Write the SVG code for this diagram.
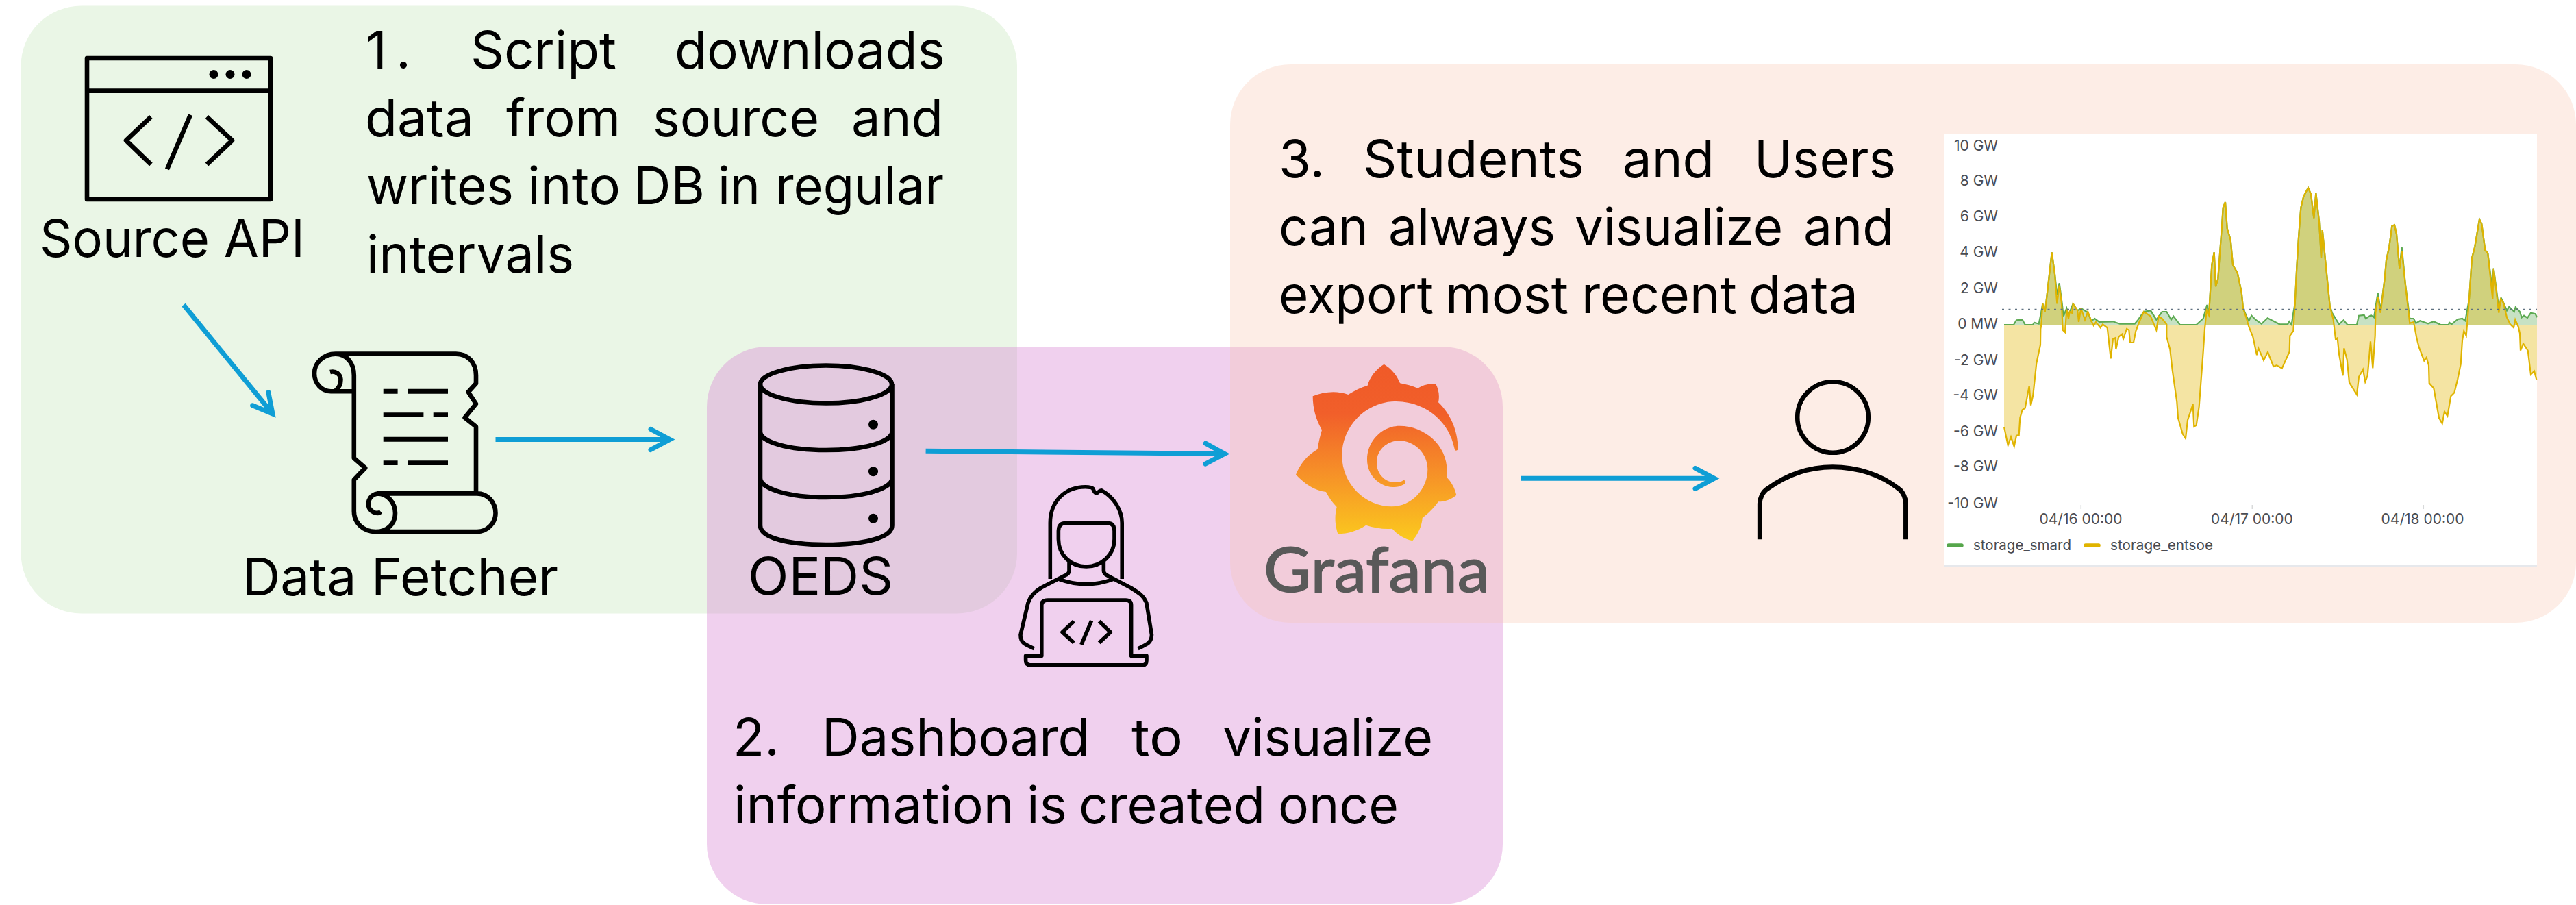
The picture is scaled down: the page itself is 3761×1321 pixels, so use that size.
<svg xmlns="http://www.w3.org/2000/svg" width="3761" height="1321" viewBox="0 0 3761 1321">
<style>
.ic{fill:none;stroke:#000;stroke-width:6.6;stroke-linejoin:round}
.bk{fill:#000;stroke:none}
.tx{font-family:Inter,"Liberation Sans",Arial,sans-serif;font-size:76px;fill:#000}
.ch{font-family:Inter,"Liberation Sans",sans-serif;font-size:21px;fill:#4a4c52}
.yl{text-anchor:end}
.xl{text-anchor:middle}
.cn{fill:none;stroke:#0F9ED5;stroke-width:7;marker-end:url(#ah)}
</style>
<defs>
<marker id="ah" markerUnits="userSpaceOnUse" markerWidth="70" markerHeight="60" viewBox="-50 -30 70 60" refX="0" refY="0" orient="auto">
<path d="M-28,-15 L0,0 L-28,15" fill="none" stroke="#0F9ED5" stroke-width="7" stroke-linecap="round" stroke-linejoin="miter" stroke-miterlimit="10"/>
</marker>
<linearGradient id="gf" x1="0" y1="0" x2="0" y2="1">
<stop offset="0" stop-color="#F05A28"/><stop offset=".28" stop-color="#F15F2A"/><stop offset=".6" stop-color="#F68E28"/><stop offset="1" stop-color="#FBCA1E"/>
</linearGradient>
</defs>
<rect width="3761" height="1321" fill="#fff"/>
<g id="panels">
<rect id="panel-1" x="30.5" y="8.5" width="1454.5" height="887" rx="88" fill="#EAF6E6"/>
<rect id="panel-2" x="1032" y="506" width="1162" height="814" rx="88" fill="#DA89D4" fill-opacity=".4"/>
<rect id="panel-3" x="1796" y="94" width="1965" height="815" rx="88" fill="#F7C4AC" fill-opacity=".3"/>
</g>
<g id="connectors">
<line class="cn" x1="268" y1="445" x2="398" y2="604"/>
<line class="cn" x1="723.5" y1="641.5" x2="978" y2="641.5"/>
<line class="cn" x1="1351.6" y1="658.3" x2="1788" y2="662.4"/>
<line class="cn" x1="2221" y1="698.3" x2="2503" y2="698.3"/>
</g>
<g id="source-api">
<rect class="ic" x="127" y="85" width="268" height="206"/>
<path class="ic" d="M127,132.6H395M220.4,170.5L184,205L220.4,240M278,167.6L244,247M302,170.5L339,205L302,240" stroke-linejoin="miter"/>
<circle class="bk" cx="312" cy="108.5" r="6.5"/><circle class="bk" cx="336" cy="108.5" r="6.5"/><circle class="bk" cx="360" cy="108.5" r="6.5"/>
<text class="tx" x="58" y="375" textLength="387" lengthAdjust="spacingAndGlyphs">Source API</text>
</g>
<g id="data-fetcher">
<path class="ic" d="M490,516.6C472,516.6 459,530 459,545C459,560 470,571.2 483,571.2H516.8M490,516.6H665.8C684,516.6 695,530 695,548V559.7L683.7,572.3L695,589.5L678.6,609.6L695,622.8V720.4M490,516.6C506,516.6 516.8,530 516.8,548V668.8L533.2,683.1L516.8,700.3V746.3C516.8,763 530,776.1 548.5,776.1H696.4C712,776.1 723.5,763 723.5,749C723.5,733 712,720.4 696.4,720.4H551C541,722 537,730 538,738C539,746 550,752 556,747M551,720.4C565,720.4 577,733 577,749C577,765 565,776.1 548.5,776.1M482,543C490,541 497,546 497.5,554C497.5,560 495,566 490,570"/>
<path class="ic" style="stroke-width:6.9" d="M559.7,571.2H580.6M595.4,571.2H654M559.7,605.6H618.4M632.7,605.6H654M559.7,641.2H654M559.7,675.6H580.6M595.4,675.6H654"/>
<text class="tx" x="354" y="868.5" textLength="461" lengthAdjust="spacingAndGlyphs">Data Fetcher</text>
</g>
<g id="oeds">
<ellipse class="ic" cx="1206" cy="561" rx="96" ry="27.5"/>
<path class="ic" d="M1110,561V767C1110,785 1150,795 1206,795C1262,795 1302.5,785 1302.5,767V561M1110,630C1110,645 1150,657 1206,657C1262,657 1302.5,645 1302.5,630M1110,698C1110,713 1150,726 1206,726C1262,726 1302.5,713 1302.5,698"/>
<ellipse class="bk" cx="1275" cy="619.7" rx="7" ry="7"/><ellipse class="bk" cx="1275" cy="688.3" rx="7" ry="7"/><ellipse class="bk" cx="1275" cy="756.7" rx="7" ry="7"/>
<text class="tx" x="1092" y="868" textLength="212" lengthAdjust="spacingAndGlyphs">OEDS</text>
</g>
<g id="developer">
<path class="ic" style="stroke-width:5.6" d="M1533.3,845V763.3C1533.3,732 1555,710.7 1584.6,710.7C1590,710.7 1594,711 1595.8,713.3C1597,716 1598,720 1601,720C1603,720 1604,716 1608,715.7C1626,725 1638.2,745 1638.2,763.3V845M1545.4,775Q1545.4,763.5 1556,763.5H1617Q1627,763.5 1627,775V787C1627,810 1608,827 1586,827C1563,827 1545.4,810 1545.4,787ZM1561,818.3V833.3Q1561,838 1553.5,840.7L1520,858C1510,864 1504.3,870 1501,880L1490,926.7C1490,938 1495,940 1509.8,946.7M1611.4,818.3V833.3Q1611.4,838 1618,840.7L1651,858C1664,866 1670,870 1673.9,880L1681.5,926.7C1681,938 1676,940 1661.4,946.7M1546.7,845.7Q1586,860 1624.8,845.7M1497.6,957.3H1520.8V883.3Q1520.8,876 1530,876H1643.6Q1651.6,876 1651.6,883.3V957.3H1674V964Q1674,970.7 1668.6,970.7H1504.3Q1497.6,970.7 1497.6,964ZM1568,906.7L1551,922.7L1568,938.3M1593.6,906L1578.8,941M1604.7,906.7L1621.3,922.7L1604.7,938.3"/>
</g>
<g id="grafana">
<path transform="translate(1750,480) scale(.33333)" fill="url(#gf)" d="M812,155C845,175 870,205 882,238C910,243 935,250 960,260C985,245 1010,240 1038,240C1052,265 1056,295 1050,322C1100,370 1135,440 1136,525Q1135,533 1128,533Q1122,533 1120,522C1100,420 1010,320 865,318C730,318 628,430 628,555C628,680 730,778 845,778C935,778 1003,700 1003,615C1003,545 945,490 878,490C825,490 780,530 780,585C780,640 820,672 860,672C880,672 890,668 897,663Q905,661 907,670Q906,678 898,682C880,692 865,694 850,693C790,690 738,640 738,572C738,490 805,425 880,425C990,425 1088,510 1088,620Q1088,635 1087,650C1105,668 1122,695 1129,728C1105,748 1080,757 1050,757C1030,785 1005,810 980,828C978,865 960,900 937,928C900,920 870,900 848,875C810,878 770,872 733,860C695,885 655,897 610,898C597,860 595,820 605,780C585,760 570,738 558,714C510,708 465,680 426,638C445,590 480,550 521,527C525,497 532,470 540,443C515,400 500,350 500,295C550,275 605,270 655,288C683,270 710,257 740,248C750,210 778,175 812,155Z"/>
<text x="1845" y="864" textLength="330" lengthAdjust="spacingAndGlyphs" style="font-family:Lato,Inter,sans-serif;font-size:92px;font-weight:400;fill:#595959;stroke:#595959;stroke-width:1.8">Grafana</text>
</g>
<g id="user">
<circle class="ic" cx="2676" cy="609" r="51.8"/>
<path class="ic" style="stroke-width:6.9" d="M2569.3,787.3V735C2569.3,728 2573,718 2580.8,713.3C2610,692 2640,681.7 2675.7,681.7C2710,681.7 2745,692 2772,713.3C2779,718 2782.5,728 2782.5,735V787.3"/>
</g>
<g id="chart">
<rect x="2838" y="195" width="866" height="631" fill="#fff"/>
<line x1="2838" y1="826" x2="3704" y2="826" stroke="#E6E8EC" stroke-width="2"/>
<path fill="#56A64B" fill-opacity=".33" d="M2926,474H2940L2944,467.3L2952.7,466.7L2956.7,474H2968L2970,470.7L2976.7,472.7L2980,456.7L2982.3,443.3L2985.7,455L2988.3,433.3L2995.7,368.3L3000,400L3003.3,430L3006.7,413.3L3010.7,443.3L3012.7,461.7L3017.3,450L3020,460L3026.7,443.3L3033.3,453.3L3038.3,450L3048.3,456L3053.3,468.3L3058.3,465L3065,470L3085,469.3L3095,472.7L3116.7,472.7L3121.7,466.7L3130,455L3140,453.3L3148.3,466.7L3156.7,455L3163.3,455L3170,466.7L3173.3,461.7L3182.7,474H3206.7L3216.7,465L3222.3,445L3225,460L3229.3,386.7L3232.7,368.3L3235,418.3L3238.3,406.7L3244,330L3245.7,303.3L3249,295L3251.7,333.3L3256.7,350L3260,386.7L3266.7,398.3L3272.7,426.7L3275,450L3280,461.7L3283.3,468.3L3287.3,460.7L3293.3,466.7L3301.7,472.7L3310.7,464.3L3328.3,473.3L3340,473.3L3342.3,469.3L3345.7,474L3348.3,456.7L3350.7,443.3L3353.3,390L3356,346.7L3359.3,303.3L3363.3,286.7L3370,274L3374,283.3L3378.3,318.3L3381.3,281.7L3386,323.3L3389,376.7L3390.7,335L3396.7,396.7L3401.7,446.7L3405,456.7L3415,473.3L3421.7,467.3L3427.3,474H3441L3444,460.7L3451.7,460L3454,465L3461.7,460L3466,463.3L3471.7,427.3L3475.7,453L3481.7,406.7L3484,380L3488.3,360L3492.3,330L3496,328.3L3499,341.7L3503.3,391.7L3506.7,360.7L3511.7,413.3L3518.3,465L3524,465L3527.3,471.7L3533.3,468.3L3545,472.3L3553.3,469.3L3563.3,474H3575L3576,470.7L3579.3,473.3L3588.3,466L3595,465L3599.3,468.3L3605,436.7L3609,376.7L3613.3,360L3620,320L3623.3,326.7L3628.3,365L3632.3,370L3638.3,418.3L3640.7,391.7L3648.3,450L3651.7,435L3655,441.7L3660,453.3L3663.3,447.7L3670.7,455L3672.7,448.3L3679,455L3681.7,463.3L3685,460.7L3690,464L3695,456.7L3701.7,458.3L3704,463.3V474Z"/>
<path fill="none" stroke="#5DAA52" stroke-width="2.2" d="M2926,474H2940L2944,467.3L2952.7,466.7L2956.7,474H2968L2970,470.7L2976.7,472.7L2980,456.7L2982.3,443.3L2985.7,455L2988.3,433.3L2995.7,368.3L3000,400L3003.3,430L3006.7,413.3L3010.7,443.3L3012.7,461.7L3017.3,450L3020,460L3026.7,443.3L3033.3,453.3L3038.3,450L3048.3,456L3053.3,468.3L3058.3,465L3065,470L3085,469.3L3095,472.7L3116.7,472.7L3121.7,466.7L3130,455L3140,453.3L3148.3,466.7L3156.7,455L3163.3,455L3170,466.7L3173.3,461.7L3182.7,474H3206.7L3216.7,465L3222.3,445L3225,460L3229.3,386.7L3232.7,368.3L3235,418.3L3238.3,406.7L3244,330L3245.7,303.3L3249,295L3251.7,333.3L3256.7,350L3260,386.7L3266.7,398.3L3272.7,426.7L3275,450L3280,461.7L3283.3,468.3L3287.3,460.7L3293.3,466.7L3301.7,472.7L3310.7,464.3L3328.3,473.3L3340,473.3L3342.3,469.3L3345.7,474L3348.3,456.7L3350.7,443.3L3353.3,390L3356,346.7L3359.3,303.3L3363.3,286.7L3370,274L3374,283.3L3378.3,318.3L3381.3,281.7L3386,323.3L3389,376.7L3390.7,335L3396.7,396.7L3401.7,446.7L3405,456.7L3415,473.3L3421.7,467.3L3427.3,474H3441L3444,460.7L3451.7,460L3454,465L3461.7,460L3466,463.3L3471.7,427.3L3475.7,453L3481.7,406.7L3484,380L3488.3,360L3492.3,330L3496,328.3L3499,341.7L3503.3,391.7L3506.7,360.7L3511.7,413.3L3518.3,465L3524,465L3527.3,471.7L3533.3,468.3L3545,472.3L3553.3,469.3L3563.3,474H3575L3576,470.7L3579.3,473.3L3588.3,466L3595,465L3599.3,468.3L3605,436.7L3609,376.7L3613.3,360L3620,320L3623.3,326.7L3628.3,365L3632.3,370L3638.3,418.3L3640.7,391.7L3648.3,450L3651.7,435L3655,441.7L3660,453.3L3663.3,447.7L3670.7,455L3672.7,448.3L3679,455L3681.7,463.3L3685,460.7L3690,464L3695,456.7L3701.7,458.3L3704,463.3"/>
<path fill="#E0B400" fill-opacity=".36" d="M2926,474V623.3L2931.7,650L2936,637.7L2940.7,651.7L2944,635.7L2947.7,635L2949.3,610L2952.7,598.3L2956.7,595.7L2962.7,563.3L2965,591.7L2968.3,576.7L2973.3,530L2979,503.3L2979.3,480L2980,476.7L2982.3,443.3L2985.7,455L2988.3,433.3L2995.7,368.3L3000,400L3003.3,443.3L3006.7,416.7L3010,443.3L3011.7,481.7L3015,485L3017.3,451.7L3020,465L3021.7,455L3025,456.7L3026.7,443.3L3033.3,453.3L3035,470L3038.3,450L3044,466.7L3048.3,455L3053.3,468.3L3056.7,475L3060,470L3066.7,478.3L3070,473.3L3076.7,478.3L3081.7,523.3L3085,495L3088.3,493.3L3089.3,510L3093.3,491.7L3098.3,487.7L3100,495L3105,480L3108.3,481.7L3110,500L3115,500L3118.3,483.3L3123.3,470L3130,455L3140,461.7L3148.3,481.7L3151.7,461.7L3156.7,465L3163.3,473.3L3163.3,491.7L3168.3,510L3171.7,540L3178.3,586.7L3180,610L3186.7,633.3L3191,640L3194,613.3L3201.7,590L3203.3,622.7L3206.7,620.7L3210.7,593.3L3216.7,513.3L3219,480L3221.7,453.3L3225,460L3229.3,386.7L3232.7,368.3L3235,418.3L3238.3,406.7L3244,330L3245.7,303.3L3249,295L3251.7,333.3L3256.7,350L3260,386.7L3266.7,398.3L3272.7,426.7L3275,450L3280,465L3283.3,476.7L3289.3,491.7L3295,518.3L3297.3,508.3L3305,526L3311,514L3319.3,535L3324,533.3L3331.7,537.7L3342.7,513.3L3343.3,490L3348.3,483L3350.7,443.3L3353.3,390L3356,346.7L3359.3,303.3L3363.3,286.7L3370,274L3374,283.3L3378.3,318.3L3381.3,281.7L3386,323.3L3389,376.7L3390.7,335L3396.7,396.7L3401.7,446.7L3406.7,466.7L3410,495L3412.7,493.3L3415,516.7L3420.7,548.3L3422.3,508.3L3426.7,525L3430,558.3L3441,576L3444,550L3450,539.3L3453.3,557.3L3456.7,548.3L3461,498.3L3464.3,537.3L3467.7,490L3468.3,456.7L3471.7,433.3L3475.7,456.7L3481.7,406.7L3484,380L3488.3,360L3492.3,330L3496,328.3L3499,341.7L3503.3,391.7L3506.7,366.7L3511.7,413.3L3518.3,471.7L3524,470L3528.3,493.3L3531.7,506.7L3539.3,526.7L3542.7,521.7L3546,533.3L3546.7,559.3L3553.3,566.7L3561,610L3565.7,618.3L3569,600.7L3573.3,607.3L3578.3,578.3L3583.3,573.3L3588.3,553.3L3592.7,531.7L3595,496.7L3597.3,483.3L3600.7,490L3605,436.7L3609,376.7L3613.3,360L3620,320L3623.3,326.7L3628.3,365L3632.3,370L3639.3,436.7L3640.7,391.7L3648.3,456.7L3651,436.7L3655,441.7L3660,463.3L3665,473.3L3670,478.3L3672.3,466.7L3676.7,476.7L3679,486.7L3680,511.7L3684,501.7L3690.7,511.7L3695,546.7L3700,541.7L3703.3,554L3704,554V474Z"/>
<path fill="none" stroke="#E0B400" stroke-width="2.2" d="M2926,623.3L2931.7,650L2936,637.7L2940.7,651.7L2944,635.7L2947.7,635L2949.3,610L2952.7,598.3L2956.7,595.7L2962.7,563.3L2965,591.7L2968.3,576.7L2973.3,530L2979,503.3L2979.3,480L2980,476.7L2982.3,443.3L2985.7,455L2988.3,433.3L2995.7,368.3L3000,400L3003.3,443.3L3006.7,416.7L3010,443.3L3011.7,481.7L3015,485L3017.3,451.7L3020,465L3021.7,455L3025,456.7L3026.7,443.3L3033.3,453.3L3035,470L3038.3,450L3044,466.7L3048.3,455L3053.3,468.3L3056.7,475L3060,470L3066.7,478.3L3070,473.3L3076.7,478.3L3081.7,523.3L3085,495L3088.3,493.3L3089.3,510L3093.3,491.7L3098.3,487.7L3100,495L3105,480L3108.3,481.7L3110,500L3115,500L3118.3,483.3L3123.3,470L3130,455L3140,461.7L3148.3,481.7L3151.7,461.7L3156.7,465L3163.3,473.3L3163.3,491.7L3168.3,510L3171.7,540L3178.3,586.7L3180,610L3186.7,633.3L3191,640L3194,613.3L3201.7,590L3203.3,622.7L3206.7,620.7L3210.7,593.3L3216.7,513.3L3219,480L3221.7,453.3L3225,460L3229.3,386.7L3232.7,368.3L3235,418.3L3238.3,406.7L3244,330L3245.7,303.3L3249,295L3251.7,333.3L3256.7,350L3260,386.7L3266.7,398.3L3272.7,426.7L3275,450L3280,465L3283.3,476.7L3289.3,491.7L3295,518.3L3297.3,508.3L3305,526L3311,514L3319.3,535L3324,533.3L3331.7,537.7L3342.7,513.3L3343.3,490L3348.3,483L3350.7,443.3L3353.3,390L3356,346.7L3359.3,303.3L3363.3,286.7L3370,274L3374,283.3L3378.3,318.3L3381.3,281.7L3386,323.3L3389,376.7L3390.7,335L3396.7,396.7L3401.7,446.7L3406.7,466.7L3410,495L3412.7,493.3L3415,516.7L3420.7,548.3L3422.3,508.3L3426.7,525L3430,558.3L3441,576L3444,550L3450,539.3L3453.3,557.3L3456.7,548.3L3461,498.3L3464.3,537.3L3467.7,490L3468.3,456.7L3471.7,433.3L3475.7,456.7L3481.7,406.7L3484,380L3488.3,360L3492.3,330L3496,328.3L3499,341.7L3503.3,391.7L3506.7,366.7L3511.7,413.3L3518.3,471.7L3524,470L3528.3,493.3L3531.7,506.7L3539.3,526.7L3542.7,521.7L3546,533.3L3546.7,559.3L3553.3,566.7L3561,610L3565.7,618.3L3569,600.7L3573.3,607.3L3578.3,578.3L3583.3,573.3L3588.3,553.3L3592.7,531.7L3595,496.7L3597.3,483.3L3600.7,490L3605,436.7L3609,376.7L3613.3,360L3620,320L3623.3,326.7L3628.3,365L3632.3,370L3639.3,436.7L3640.7,391.7L3648.3,456.7L3651,436.7L3655,441.7L3660,463.3L3665,473.3L3670,478.3L3672.3,466.7L3676.7,476.7L3679,486.7L3680,511.7L3684,501.7L3690.7,511.7L3695,546.7L3700,541.7L3703.3,554"/>
<line x1="2923" y1="451.7" x2="3704" y2="451.7" stroke="#5F7180" stroke-width="2" stroke-dasharray="3 6.5"/>
<g class="ch yl">
<text x="2917" y="220">10 GW</text><text x="2917" y="271">8 GW</text><text x="2917" y="323">6 GW</text><text x="2917" y="375">4 GW</text><text x="2917" y="428">2 GW</text><text x="2917" y="480">0 MW</text><text x="2917" y="533">-2 GW</text><text x="2917" y="584">-4 GW</text><text x="2917" y="637">-6 GW</text><text x="2917" y="688">-8 GW</text><text x="2917" y="742">-10 GW</text>
</g>
<path d="M3038.3,737V743M3288.3,737V743M3538.3,737V743" stroke="#D8D9DA" stroke-width="1.5"/>
<g class="ch xl">
<text x="3038" y="765">04/16 00:00</text><text x="3288" y="765">04/17 00:00</text><text x="3537" y="765">04/18 00:00</text>
</g>
<line x1="2845" y1="796" x2="2864" y2="796" stroke="#56A64B" stroke-width="5.5" stroke-linecap="round"/>
<text class="ch" x="2881" y="803" textLength="143" lengthAdjust="spacingAndGlyphs">storage_smard</text>
<line x1="3045" y1="796" x2="3064" y2="796" stroke="#E0B400" stroke-width="5.5" stroke-linecap="round"/>
<text class="ch" x="3081" y="803" textLength="150" lengthAdjust="spacingAndGlyphs">storage_entsoe</text>
</g>
<g id="captions">
<text class="tx" y="100"><tspan x="534" textLength="66" lengthAdjust="spacing">1.</tspan> <tspan x="687" textLength="213" lengthAdjust="spacingAndGlyphs">Script</tspan> <tspan x="985" textLength="395" lengthAdjust="spacingAndGlyphs">downloads</tspan></text>
<text class="tx" y="199"><tspan x="533" textLength="159" lengthAdjust="spacingAndGlyphs">data</tspan> <tspan x="739" textLength="167" lengthAdjust="spacingAndGlyphs">from</tspan> <tspan x="953" textLength="243" lengthAdjust="spacingAndGlyphs">source</tspan> <tspan x="1243" textLength="134" lengthAdjust="spacingAndGlyphs">and</tspan></text>
<text class="tx" y="298"><tspan x="535" textLength="215" lengthAdjust="spacingAndGlyphs">writes</tspan> <tspan x="770" textLength="136" lengthAdjust="spacingAndGlyphs">into</tspan> <tspan x="925" textLength="104" lengthAdjust="spacingAndGlyphs">DB</tspan> <tspan x="1048" textLength="62" lengthAdjust="spacingAndGlyphs">in</tspan> <tspan x="1132" textLength="246" lengthAdjust="spacingAndGlyphs">regular</tspan></text>
<text class="tx" x="535" y="398" textLength="303" lengthAdjust="spacingAndGlyphs">intervals</text>
<text class="tx" y="1103"><tspan x="1070" textLength="68" lengthAdjust="spacingAndGlyphs">2.</tspan> <tspan x="1200" textLength="391" lengthAdjust="spacingAndGlyphs">Dashboard</tspan> <tspan x="1652" textLength="75" lengthAdjust="spacingAndGlyphs">to</tspan> <tspan x="1785" textLength="307" lengthAdjust="spacingAndGlyphs">visualize</tspan></text>
<text class="tx" y="1202"><tspan x="1071" textLength="410" lengthAdjust="spacingAndGlyphs">information</tspan> <tspan x="1499" textLength="59" lengthAdjust="spacingAndGlyphs">is</tspan> <tspan x="1575" textLength="272" lengthAdjust="spacingAndGlyphs">created</tspan> <tspan x="1866" textLength="176" lengthAdjust="spacingAndGlyphs">once</tspan></text>
<text class="tx" y="259"><tspan x="1867" textLength="67" lengthAdjust="spacingAndGlyphs">3.</tspan> <tspan x="1990" textLength="323" lengthAdjust="spacingAndGlyphs">Students</tspan> <tspan x="2369" textLength="134" lengthAdjust="spacingAndGlyphs">and</tspan> <tspan x="2561" textLength="207" lengthAdjust="spacingAndGlyphs">Users</tspan></text>
<text class="tx" y="358"><tspan x="1867" textLength="131" lengthAdjust="spacingAndGlyphs">can</tspan> <tspan x="2027" textLength="244" lengthAdjust="spacingAndGlyphs">always</tspan> <tspan x="2299" textLength="304" lengthAdjust="spacingAndGlyphs">visualize</tspan> <tspan x="2633" textLength="132" lengthAdjust="spacingAndGlyphs">and</tspan></text>
<text class="tx" y="457"><tspan x="1867" textLength="226" lengthAdjust="spacingAndGlyphs">export</tspan> <tspan x="2110" textLength="180" lengthAdjust="spacingAndGlyphs">most</tspan> <tspan x="2309" textLength="227" lengthAdjust="spacingAndGlyphs">recent</tspan> <tspan x="2553" textLength="160" lengthAdjust="spacingAndGlyphs">data</tspan></text>
</g>
</svg>
